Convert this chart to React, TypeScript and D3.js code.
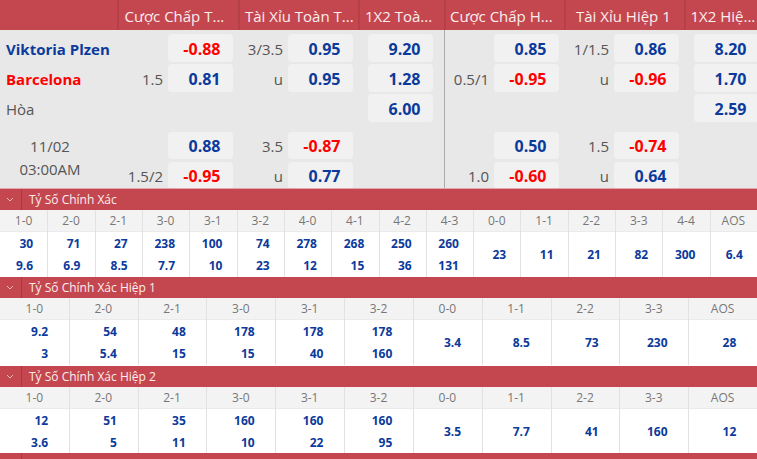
import React from "react";
import * as d3 from "d3";

const W = 757, H = 459;
const FONT = "'Open Sans', 'Noto Sans', sans-serif";
const RED = "#c4474f", DARK = "#a63a42", BLUE = "#0b3a9c", HOT = "#ff0000", GREY = "#555555";

const headers = ["Cược Chấp T...", "Tài Xỉu Toàn T...", "1X2 Toà...", "Cược Chấp H...", "Tài Xỉu Hiệp 1", "1X2 Hiệ..."];
const headerEdges = [117.5, 238.5, 358.5, 444.5, 564.5, 684.5, 757];
const headerStarts = [124.5, 245, 365, 450, 576, 690.5];
const cellLeft = [168, 288, 368, 494, 614, 694];
const cellRight = [233, 353, 433, 559, 679, 759];
const rowNames = ["a", "b", "c", "d", "e"];
const rowTops = [34, 64, 94, 132, 162];
const rowHeights = [28, 28, 28, 27, 27];
const handicapCol0 = ["", "1.5", "", "", "1.5/2"];
const handicapCol1 = ["3/3.5", "u", "", "3.5", "u"];
const handicapCol3 = ["", "0.5/1", "", "", "1.0"];
const handicapCol4 = ["1/1.5", "u", "", "1.5", "u"];
const oddsCol0 = ["-0.88", "0.81", "", "0.88", "-0.95"];
const oddsCol1 = ["0.95", "0.95", "", "-0.87", "0.77"];
const oddsCol2 = ["9.20", "1.28", "6.00", "", ""];
const oddsCol3 = ["0.85", "-0.95", "", "0.50", "-0.60"];
const oddsCol4 = ["0.86", "-0.96", "", "-0.74", "0.64"];
const oddsCol5 = ["8.20", "1.70", "2.59", "", ""];
const oddsCols = [oddsCol0, oddsCol1, oddsCol2, oddsCol3, oddsCol4, oddsCol5];
const handicapCols = [handicapCol0, handicapCol1, [] as string[], handicapCol3, handicapCol4, [] as string[]];

const ftScores = ["1-0","2-0","2-1","3-0","3-1","3-2","4-0","4-1","4-2","4-3","0-0","1-1","2-2","3-3","4-4","AOS"];
const ftTop = ["30","71","27","238","100","74","278","268","250","260","23","11","21","82","300","6.4"];
const ftBottom = ["9.6","6.9","8.5","7.7","10","23","12","15","36","131"];
const halfScores = ["1-0","2-0","2-1","3-0","3-1","3-2","0-0","1-1","2-2","3-3","AOS"];
const h1Top = ["9.2","54","48","178","178","178","3.4","8.5","73","230","28"];
const h1Bottom = ["3","5.4","15","15","40","160"];
const h2Top = ["12","51","35","160","160","160","3.5","7.7","41","160","12"];
const h2Bottom = ["3.6","5","11","10","22","95"];

const sections = [
  { title: "Tỷ Số Chính Xác", scores: ftScores, top: ftTop, bottom: ftBottom, y: 189 },
  { title: "Tỷ Số Chính Xác Hiệp 1", scores: halfScores, top: h1Top, bottom: h1Bottom, y: 277 },
  { title: "Tỷ Số Chính Xác Hiệp 2", scores: halfScores, top: h2Top, bottom: h2Bottom, y: 366 },
];

const rowY = d3.scaleOrdinal<string, number>().domain(rowNames).range(rowTops);
const rowH = d3.scaleOrdinal<string, number>().domain(rowNames).range(rowHeights);

const T = (p: any) => <text dy="0.36em" fontFamily={FONT} {...p} />;
const oddColor = (v: string) => (v.startsWith("-") ? HOT : BLUE);

function Section({ s }: { s: typeof sections[number] }) {
  const x = d3.scaleBand<number>().domain(d3.range(s.scores.length)).range([0, W]);
  const bw = x.bandwidth();
  const y = s.y;
  return (
    <g>
      <rect x={0} y={y} width={W} height={21} fill={RED} />
      <rect x={21} y={y} width={1} height={21} fill={DARK} />
      <path d={`M7 ${y + 9}l3 3l3 -3`} fill="none" stroke="#e9b9bc" strokeWidth={1} />
      <T x={29} y={y + 10.5} fontSize={12} fill="#fbeeee">{s.title}</T>
      <rect x={0} y={y + 21} width={W} height={21} fill="#f3f3f3" />
      <rect x={0} y={y + 42} width={W} height={1} fill="#ebebeb" />
      <rect x={0} y={y + 43} width={W} height={45} fill="#ffffff" />
      {s.scores.map((sc, i) => {
        const x0 = x(i)!;
        const right = x0 + bw * 0.7;
        const two = i < s.bottom.length;
        return (
          <g key={i}>
            {i > 0 && <rect x={Math.round(x0)} y={y + 21} width={1} height={67} fill="#e2e2e2" />}
            <T x={x0 + bw / 2} y={y + 32} fontSize={12} fill="#777" textAnchor="middle">{sc}</T>
            <T x={right} y={two ? y + 55 : y + 66} fontSize={12} fontWeight={700} fill={BLUE} textAnchor="end">{s.top[i]}</T>
            {two && <T x={right} y={y + 76.7} fontSize={12} fontWeight={700} fill={BLUE} textAnchor="end">{s.bottom[i]}</T>}
          </g>
        );
      })}
    </g>
  );
}

export default function App() {
  return (
    <svg width={W} height={H} viewBox={`0 0 ${W} ${H}`} style={{ position: "absolute", left: 0, top: 0, display: "block" }}>
      <rect width={W} height={H} fill="#ffffff" />
      <rect x={0} y={0} width={W} height={30} fill={RED} />
      <rect x={0} y={30} width={W} height={158} fill="#e8e8e8" />
      <rect x={444} y={30} width={1} height={158} fill="#aaaaaa" />
      {headers.map((h, i) => (
        <g key={h}>
          <rect x={headerEdges[i]} y={0} width={1} height={30} fill={DARK} />
          <T x={headerStarts[i]} y={17} fontSize={15} fill="#fbeeee">{h}</T>
        </g>
      ))}
      <T x={6} y={49.5} fontSize={15} fontWeight={700} fill={BLUE}>Viktoria Plzen</T>
      <T x={6} y={79.5} fontSize={15} fontWeight={700} fill={HOT}>Barcelona</T>
      <T x={6} y={109.5} fontSize={15} fill={GREY}>Hòa</T>
      <T x={50} y={146.5} fontSize={15} fill={GREY} textAnchor="middle">11/02</T>
      <T x={50} y={169.5} fontSize={15} fill={GREY} textAnchor="middle">03:00AM</T>
      {oddsCols.map((col, c) => (
        <g key={c}>
          {col.map((v, r) => {
            const n = rowNames[r];
            const t = rowY(n), h = rowH(n);
            const hc = handicapCols[c][r];
            return (
              <g key={r}>
                {v && <rect x={cellLeft[c]} y={t} width={cellRight[c] - cellLeft[c]} height={h} rx={4} fill="#f1f1f1" />}
                {v && <T x={cellLeft[c] + 52.5} y={t + h / 2 + (r > 2 ? 1 : 1.5)} fontSize={16} fontWeight={700} fill={oddColor(v)} textAnchor="end">{v}</T>}
                {hc && <T x={cellLeft[c] - 5} y={t + h / 2 + (r > 2 ? 1 : 1.5)} fontSize={15} fill={GREY} textAnchor="end">{hc}</T>}
              </g>
            );
          })}
        </g>
      ))}
      <rect x={0} y={188} width={W} height={1} fill="#e0a8ab" />
      {sections.map((s) => <Section key={s.title} s={s} />)}
      <rect x={0} y={453} width={W} height={6} fill={RED} />
      <rect x={21} y={453} width={1} height={6} fill={DARK} />
    </svg>
  );
}
